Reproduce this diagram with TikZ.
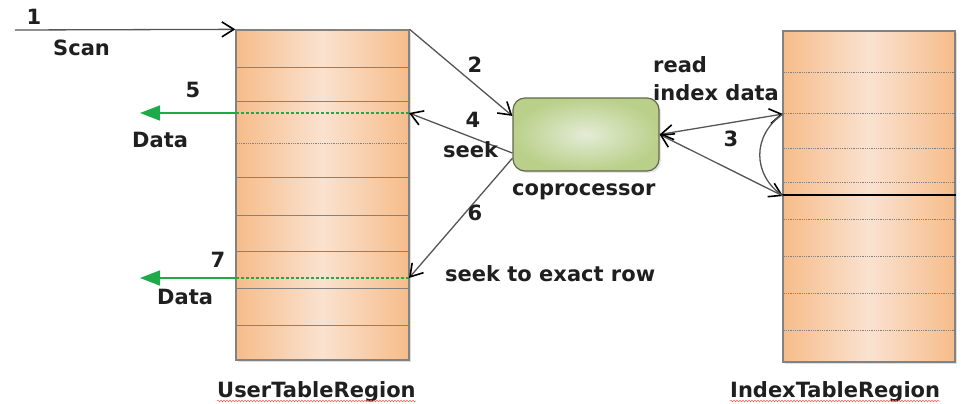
\documentclass[tikz,border=0pt]{standalone}
\usepackage{fontspec}
\setmainfont{DejaVu Sans}
\usetikzlibrary{arrows.meta,shadows,decorations.pathmorphing,calc}
\definecolor{tabedge}{RGB}{246,188,138}
\definecolor{tabmid}{RGB}{250,226,208}
\definecolor{cpedge}{RGB}{186,208,138}
\definecolor{cpmid}{RGB}{228,236,214}
\definecolor{cpborder}{RGB}{95,105,75}
\definecolor{dgreen}{RGB}{30,170,75}
\definecolor{rowgray}{RGB}{130,130,130}
\definecolor{linegray}{RGB}{85,85,85}
\begin{document}
\begin{tikzpicture}[x=1pt,y=-1pt,
  lbl/.style={font=\bfseries\fontsize{21}{24}\selectfont, inner sep=0pt, text=black!88},
  tbl/.style={draw=rowgray, line width=1.3pt, left color=tabedge, right color=tabedge,
    middle color=tabmid, inner sep=0pt,
    drop shadow={opacity=0.25, shadow xshift=2pt, shadow yshift=-2pt}},
  rowline/.style={draw=rowgray, line width=1.2pt},
  dotrow/.style={draw=rowgray, line width=1.3pt, dash pattern=on 1pt off 0.8pt},
  copro/.style={draw=cpborder, line width=1.2pt, rounded corners=12pt,
    inner color=cpmid, outer color=cpedge, inner sep=0pt,
    drop shadow={opacity=0.2, shadow xshift=2pt, shadow yshift=-2pt}},
  tip/.style={Straight Barb[length=12pt,width=15pt,line width=1.6pt,color=black]},
  arr/.style={draw=linegray, line width=1.3pt, -{Straight Barb[length=12pt,width=15pt,line width=1.6pt,color=black]}},
  darr/.style={draw=linegray, line width=1.3pt,
    {Straight Barb[length=12pt,width=15pt,line width=1.6pt,color=black]}-{Straight Barb[length=12pt,width=15pt,line width=1.6pt,color=black]}},
  garr/.style={draw=dgreen, line width=1.6pt, -{Triangle[length=20pt,width=15pt]}},
  gdash/.style={draw=dgreen, line width=1.3pt, dash pattern=on 3pt off 2pt},
  squig/.style={draw=red!65, line width=0.5pt, decorate,
    decoration={snake, amplitude=0.8pt, segment length=3pt}}
]
\useasboundingbox (0,0) rectangle (969,404);

% tables
\node[tbl, minimum width=173pt, minimum height=330pt] (ut) at (322.5,195) {};
\node[tbl, minimum width=172pt, minimum height=331pt] (it) at (869,196.5) {};

% user table rows
\foreach \d in {38,72,148,186,222,259,296}
  \draw[rowline] ([yshift=-\d pt]ut.north west) -- ([yshift=-\d pt]ut.north east);
\draw[dotrow] ([yshift=-114pt]ut.north west) -- ([yshift=-114pt]ut.north east);

% index table rows
\foreach \d in {42,83,118,152,189,226,263,300}
  \draw[dotrow] ([yshift=-\d pt]it.north west) -- ([yshift=-\d pt]it.north east);
\draw[line width=2pt, black] ([yshift=-165pt]it.north west) -- ([yshift=-165pt]it.north east);

% coprocessor
\node[copro, minimum width=146pt, minimum height=73pt] (cp) at (586,134.5) {};

% coordinates
\coordinate (s0) at (15,30);
\coordinate (u5) at (409,113);
\coordinate (u5w) at (236,113);
\coordinate (g5) at (140,113);
\coordinate (u7) at (409,278);
\coordinate (u7w) at (236,278);
\coordinate (g7) at (140,278);
\coordinate (c2) at ($(cp.north west)!0.25!(cp.south west)$);
\coordinate (c4) at ($(cp.north west)!0.75!(cp.south west)$);
\coordinate (c6) at ($(cp.north west)!0.82!(cp.south west)$);
\coordinate (r1) at (783,114);
\coordinate (r2) at (783,196);

% connectors
\draw[arr] (s0) -- (ut.north west);
\draw[arr] (ut.north east) -- (c2);
\draw[arr] (c4) -- (u5);
\draw[arr] (c6) -- (u7);
\draw[darr] (cp.east) -- (r1);
\draw[darr] (cp.east) -- (r2);
\draw[draw=linegray, line width=1.3pt] (r1) .. controls (752,135) and (752,175) .. (r2);

% green data arrows
\draw[gdash] (u5) -- (u5w);
\draw[garr] (u5w) -- (g5);
\draw[gdash] (u7) -- (u7w);
\draw[garr] (u7w) -- (g7);

% labels
\node[lbl] (n1) at (34,17) {1};
\node[lbl, anchor=base west] (scan) at (53,56) {Scan};
\node[lbl] (n5) at (193,90) {5};
\node[lbl, anchor=base west] (data5) at (132,147) {Data};
\node[lbl] (n7) at (218,260) {7};
\node[lbl, anchor=base west] (data7) at (157,304) {Data};
\node[lbl] (n2) at (475,65) {2};
\node[lbl] (n4) at (473,120) {4};
\node[lbl, anchor=base west] (seek) at (443,157) {seek};
\node[lbl] (n6) at (475,213) {6};
\node[lbl] (n3) at (731,139) {3};
\node[lbl, anchor=base west] (cpl) at (512,195) {coprocessor};
\node[lbl, anchor=base west] (stx) at (445,281) {seek to exact row};
\node[lbl, anchor=base west] (rd) at (653,73) {read};
\node[lbl, anchor=base west] (idx) at (653,100) {index data};
\node[lbl, anchor=base west] (utl) at (217,397) {UserTableRegion};
\node[lbl, anchor=base west] (itl) at (730,397) {IndexTableRegion};
\draw[squig] ($(utl.base west)+(0,4)$) -- ($(utl.base east)+(0,4)$);
\draw[squig] ($(itl.base west)+(0,4)$) -- ($(itl.base east)+(0,4)$);
\end{tikzpicture}
\end{document}
